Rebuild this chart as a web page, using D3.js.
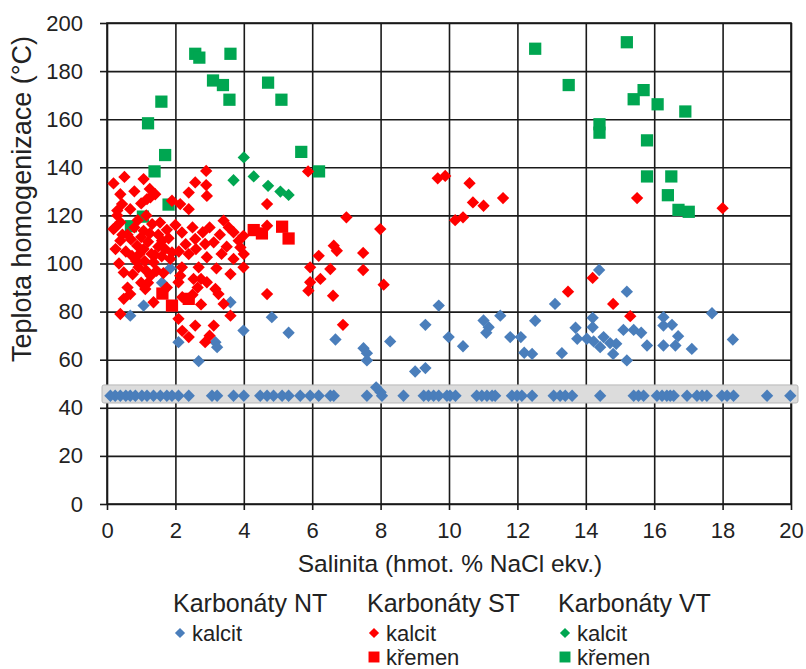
<!DOCTYPE html>
<html>
<head>
<meta charset="utf-8">
<script src="https://cdn.jsdelivr.net/npm/d3@7"></script>
<style>
  html, body { margin: 0; padding: 0; background: #fff; }
  svg { display: block; font-family: "Liberation Sans", Arial, sans-serif; }
</style>
</head>
<body>
<svg id="chart" width="806" height="669"></svg>
<script>
// Fluid inclusion data: salinity (wt. % NaCl eq.) vs homogenization temperature (°C)

const xTicks = [0, 2, 4, 6, 8, 10, 12, 14, 16, 18, 20];
const yTicks = [0, 20, 40, 60, 80, 100, 120, 140, 160, 180, 200];

// Karbonáty NT – kalcit (measured temperatures)
const ntKalcit = [
  [1.85, 98], [1.61, 92], [1.07, 82.5], [0.68, 78.3], [2.09, 67.3], [3.17, 67.3], [3.22, 65.2],
  [2.68, 59.4], [3.61, 83.9], [3.99, 72.1], [4.82, 77.7], [5.31, 71.2], [6.68, 68.4], [7.5, 64.8],
  [7.6, 62.7], [7.6, 59.7], [8.28, 67.6], [9.01, 55.1], [9.31, 56.5], [9.7, 82.5], [9.31, 74.5],
  [9.99, 69.4], [10.41, 65.6], [11.01, 76.3], [11.16, 73.5], [11.09, 71.2], [11.5, 78.3],
  [11.79, 69.4], [12.1, 69.4], [12.2, 62.9], [12.52, 76.2], [13.1, 83.2], [13.3, 62.7],
  [13.7, 73.3], [13.75, 68.7], [14.39, 97.3], [15.2, 88.3], [17.69, 79.3], [14.2, 77.4],
  [14.2, 73.5], [15.1, 72.4], [15.4, 72.4], [15.62, 71.2], [16.27, 77.7], [16.27, 74.2],
  [16.52, 74.5], [16.7, 69.8], [18.3, 68.4], [14.03, 68.7], [14.23, 67.6], [14.52, 69.4],
  [14.42, 65.2], [14.71, 66.9], [14.89, 66.6], [14.8, 62.4], [15.2, 59.7], [15.79, 65.9],
  [16.27, 65.9], [16.62, 65.9], [17.1, 64.5], [12.43, 62.4], [7.87, 48.5], [8.0, 46.5]
];

// Karbonáty NT – kalcit, inclusions with homogenization below the plotted range (shown at 45 °C)
const ntKalcitLow = [
  0.1, 0.24, 0.39, 0.55, 0.68, 0.83, 1.02, 1.17, 1.36, 1.56, 1.75, 1.9, 2.09, 2.39, 3.07, 3.22,
  3.7, 4.0, 4.48, 4.68, 4.87, 5.12, 5.31, 5.65, 5.94, 6.19, 6.53, 6.63, 7.6, 8.04, 8.67, 9.26,
  9.4, 9.55, 9.7, 9.94, 10.03, 10.19, 10.81, 10.96, 11.11, 11.26, 11.35, 11.84, 11.99, 12.13,
  12.43, 13.06, 13.25, 13.4, 13.6, 14.42, 15.4, 15.54, 15.69, 16.08, 16.23, 16.37, 16.47,
  16.57, 16.96, 17.25, 17.4, 17.54, 17.98, 18.13, 18.32, 19.3, 19.98
];
const lowValue = 45;
const lowBand = [42, 49.5];

// Karbonáty ST – kalcit
const stKalcit = [
  [0.19, 133.3], [0.51, 136.0], [1.07, 135.1], [1.41, 128.8], [1.27, 127.5], [0.39, 128.8],
  [2.9, 138.5], [2.58, 133.7], [2.9, 132.6], [2.39, 129.5], [2.92, 128.1], [5.88, 138.3],
  [1.17, 126.8], [1.9, 126.1], [2.14, 124.7], [2.39, 122.6], [0.44, 124.7], [0.68, 122.6],
  [0.24, 115.0], [0.39, 117.1], [1.32, 116.4], [1.07, 113.6], [0.39, 109.5], [0.19, 114.3],
  [3.41, 117.8], [3.56, 115.0], [4.68, 124.7], [4.68, 115.7], [3.99, 111.5], [3.85, 109.5],
  [2.19, 112.9], [2.58, 110.2], [2.87, 108.1], [3.12, 108.8], [1.61, 109.5], [0.88, 107.4],
  [1.07, 106.0], [0.73, 103.2], [1.36, 100.5], [1.85, 101.9], [1.9, 104.6], [2.39, 103.9],
  [2.92, 102.6], [3.9, 106.7], [4.0, 103.9], [3.7, 101.9], [3.99, 98.4], [3.61, 95.6],
  [2.19, 98.4], [2.68, 98.4], [0.92, 98.4], [0.49, 96.3], [0.75, 95.5], [1.27, 94.9],
  [2.14, 94.9], [2.53, 93.6], [2.75, 93.6], [2.92, 92.2], [2.09, 92.2], [1.12, 89.4],
  [0.68, 87.3], [0.49, 85.3], [0.39, 79.0], [1.36, 83.9], [3.17, 89.4], [3.26, 87.3],
  [3.41, 83.2], [3.61, 78.3], [2.58, 74.2], [3.12, 74.2], [2.39, 69.4], [2.87, 67.3],
  [2.09, 77.0], [4.68, 87.3], [6.63, 107.4], [6.72, 105.3], [6.19, 103.2], [5.94, 98.4],
  [6.53, 97.7], [6.24, 93.6], [5.94, 92.2], [5.89, 88.7], [6.61, 86.6], [6.9, 74.5],
  [7.0, 119.2], [7.99, 114.3], [7.49, 104.4], [7.49, 97.3], [8.09, 91.2], [9.67, 135.4],
  [9.89, 136.4], [10.6, 133.4], [10.7, 125.4], [11.01, 124.0], [11.58, 127.2], [10.18, 118.0],
  [10.41, 119.2], [13.48, 88.3], [14.2, 94.0], [14.8, 83.2], [15.3, 78.1], [15.5, 127.2],
  [18.0, 123.0], [0.9, 118], [1.0, 111], [1.2, 109], [1.5, 107], [1.3, 104], [1.6, 103],
  [0.6, 112], [0.8, 115], [1.15, 120], [1.5, 112], [1.75, 114], [1.45, 97], [1.65, 96],
  [1.0, 92], [0.6, 90], [0.3, 120], [2.0, 116], [2.8, 113], [3.3, 112], [3.2, 98], [2.5, 87],
  [2.75, 83], [3.0, 70], [2.2, 72], [1.75, 90], [3.5, 107], [0.3, 122], [1.25, 131], [0.8, 130],
  [0.55, 105], [1.1, 101], [0.35, 100], [0.45, 112], [0.7, 110], [0.95, 104], [1.15, 97],
  [1.4, 103.5], [1.7, 106], [1.55, 117], [1.8, 110.5], [0.85, 101], [1.25, 112.5], [2.3, 108],
  [2.1, 105], [2.6, 106], [0.25, 106], [2.5, 115], [1.0, 125], [3.0, 115], [3.7, 113],
  [2.2, 86], [2.65, 90], [3.35, 104], [1.2, 92]
];

// Karbonáty ST – křemen
const stKremen = [
  [1.62, 87.5], [1.9, 82.5], [2.39, 85.3], [4.29, 113.9], [4.53, 112.5], [5.12, 115.3], [5.31, 110.4]
];

// Karbonáty VT – kalcit
const vtKalcit = [
  [4.0, 144.1], [3.7, 134.6], [4.29, 136.2], [4.71, 132.3], [5.07, 129.9], [5.31, 128.5]
];

// Karbonáty VT – křemen
const vtKremen = [
  [2.58, 187.2], [2.7, 185.6], [3.61, 187.2], [3.1, 176.1], [3.39, 174.2], [3.58, 168.1],
  [4.71, 175.2], [5.1, 168.1], [1.59, 167.3], [1.2, 158.3], [1.7, 145.1], [1.39, 138.3],
  [5.68, 146.4], [6.2, 138.3], [1.8, 124.5], [1.05, 119.5], [0.7, 115.5],
  [12.52, 189.3], [15.2, 192.0], [13.5, 174.2], [15.69, 172.1], [15.4, 168.3], [16.1, 166.2],
  [16.91, 163.2], [14.4, 157.9], [14.4, 154.4], [15.79, 151.2], [15.79, 136.2], [16.5, 136.2],
  [16.4, 128.4], [16.71, 122.3], [17.01, 121.5]
];

const colors = { nt: "#4a7ebb", st: "#ff0000", vt: "#00a651" };

const svg = d3.select("#chart");
const x = d3.scaleLinear().domain([0, 20]).range([107, 791]);
const y = d3.scaleLinear().domain([0, 200]).range([504, 23]);
const plotW = x(20) - x(0);
const plotH = y(0) - y(200);
const gridColor = "#1a1a1a";

// Grid lines (axes with inner ticks spanning the plot)
const gx = svg.append("g")
  .attr("transform", `translate(0,${y(0)})`)
  .call(d3.axisBottom(x).tickValues(xTicks).tickSize(-plotH).tickFormat(""));
const gy = svg.append("g")
  .attr("transform", `translate(${x(0)},0)`)
  .call(d3.axisLeft(y).tickValues(yTicks).tickSize(-plotW).tickFormat(""));
[gx, gy].forEach(g => {
  g.select(".domain").remove();
  g.selectAll("line").attr("stroke", gridColor).attr("stroke-width", 1.6);
});

// Plot frame
svg.append("rect")
  .attr("x", x(0)).attr("y", y(200))
  .attr("width", plotW).attr("height", plotH)
  .attr("fill", "none").attr("stroke", gridColor).attr("stroke-width", 1.6);

// Outer ticks and labels
const axX = svg.append("g")
  .attr("transform", `translate(0,${y(0)})`)
  .call(d3.axisBottom(x).tickValues(xTicks).tickSize(6).tickPadding(12).tickSizeOuter(0));
const axY = svg.append("g")
  .attr("transform", `translate(${x(0)},0)`)
  .call(d3.axisLeft(y).tickValues(yTicks).tickSize(7).tickPadding(17).tickSizeOuter(0));
[axX, axY].forEach(g => {
  g.select(".domain").remove();
  g.selectAll("line").attr("stroke", gridColor).attr("stroke-width", 1.6);
  g.selectAll("text")
    .attr("fill", "#222")
    .style("font-size", "22px")
    .style("font-family", "'Liberation Sans', Arial, sans-serif");
});

// Band marking the values below range
svg.append("rect")
  .attr("x", x(0) - 5).attr("y", y(lowBand[1]))
  .attr("width", x(20) - x(0) + 12).attr("height", y(lowBand[0]) - y(lowBand[1]))
  .attr("rx", 2)
  .attr("fill", "#dcdcdc").attr("stroke", "#b8b8b8").attr("stroke-width", 1);

// Marker generators
const diamond = d3.symbol().type(d3.symbolSquare).size(76);
const square = d3.symbol().type(d3.symbolSquare).size(150);

function drawDiamonds(data, color) {
  svg.append("g").selectAll("path").data(data).join("path")
    .attr("d", diamond)
    .attr("transform", d => `translate(${x(d[0])},${y(d[1])}) rotate(45)`)
    .attr("fill", color);
}
function drawSquares(data, color) {
  svg.append("g").selectAll("path").data(data).join("path")
    .attr("d", square)
    .attr("transform", d => `translate(${x(d[0])},${y(d[1])})`)
    .attr("fill", color);
}

drawSquares(vtKremen, colors.vt);
drawDiamonds(vtKalcit, colors.vt);
drawDiamonds(ntKalcit, colors.nt);
drawDiamonds(ntKalcitLow.map(v => [v, lowValue]), colors.nt);
drawSquares(stKremen, colors.st);
drawDiamonds(stKalcit, colors.st);

// Axis titles
svg.append("text")
  .attr("x", 450).attr("y", 572)
  .attr("text-anchor", "middle")
  .attr("fill", "#222").style("font-size", "24.5px")
  .text("Salinita (hmot. % NaCl ekv.)");
svg.append("text")
  .attr("transform", "translate(31,199) rotate(-90)")
  .attr("text-anchor", "middle")
  .attr("fill", "#222").style("font-size", "27px")
  .text("Teplota homogenizace (°C)");

// Legend
const legendGroups = [
  { title: "Karbonáty NT", x: 173, items: [{ label: "kalcit", shape: "diamond", color: colors.nt }] },
  { title: "Karbonáty ST", x: 367, items: [
      { label: "kalcit", shape: "diamond", color: colors.st },
      { label: "křemen", shape: "square", color: colors.st }] },
  { title: "Karbonáty VT", x: 558, items: [
      { label: "kalcit", shape: "diamond", color: colors.vt },
      { label: "křemen", shape: "square", color: colors.vt }] }
];
const legDiamond = d3.symbol().type(d3.symbolSquare).size(52);
const legSquare = d3.symbol().type(d3.symbolSquare).size(120);

legendGroups.forEach(grp => {
  const g = svg.append("g");
  g.append("text")
    .attr("x", grp.x).attr("y", 612)
    .attr("fill", "#222").style("font-size", "25px")
    .text(grp.title);
  grp.items.forEach((it, i) => {
    const cy = 633 + i * 24;
    g.append("path")
      .attr("d", it.shape === "diamond" ? legDiamond : legSquare)
      .attr("transform", `translate(${grp.x + 7},${cy})` + (it.shape === "diamond" ? " rotate(45)" : ""))
      .attr("fill", it.color);
    g.append("text")
      .attr("x", grp.x + 19).attr("y", cy + 8)
      .attr("fill", "#222").style("font-size", "22px")
      .text(it.label);
  });
});
</script>
</body>
</html>
